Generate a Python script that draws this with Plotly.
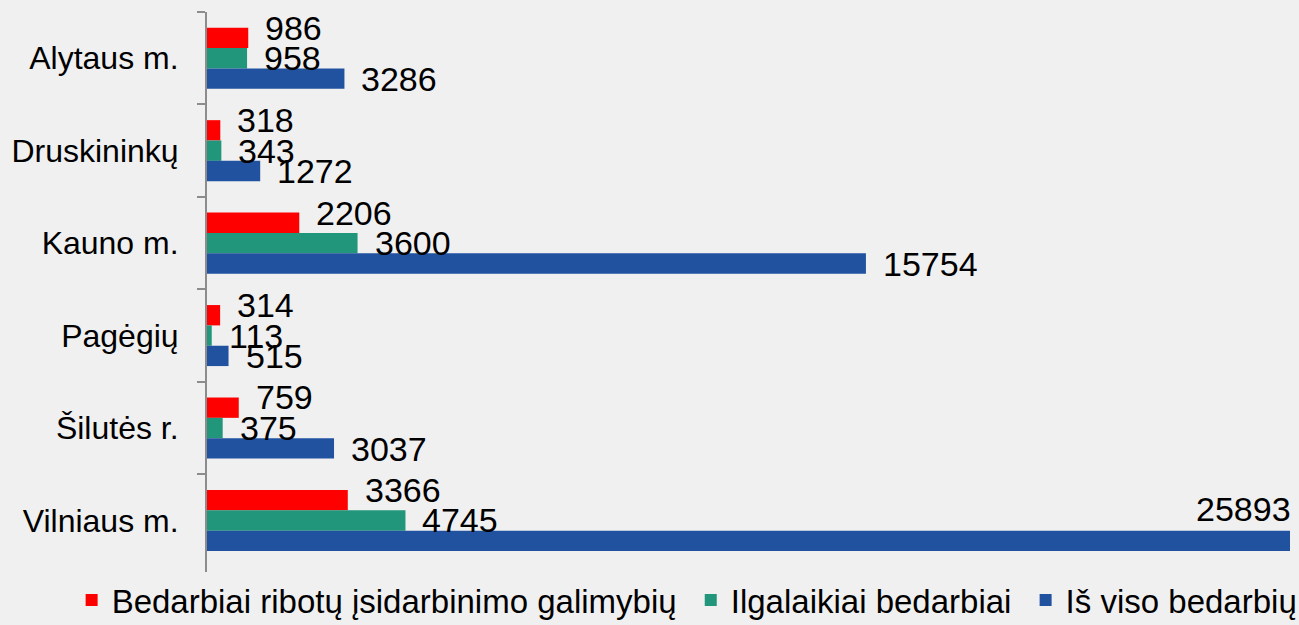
import plotly.graph_objects as go

categories = ["Alytaus m.", "Druskininkų", "Kauno m.", "Pagėgių", "Šilutės r.", "Vilniaus m."]
series_names = ["Bedarbiai ribotų įsidarbinimo galimybių", "Ilgalaikiai bedarbiai", "Iš viso bedarbių"]
ribotu = [986, 318, 2206, 314, 759, 3366]
ilgalaikiai = [958, 343, 3600, 113, 375, 4745]
is_viso = [3286, 1272, 15754, 515, 3037, 25893]

colors = ["#ff0000", "#21967a", "#2152a0"]
series_values = [ribotu, ilgalaikiai, is_viso]

W, H = 1299, 625
M_L, M_R, M_T, M_B = 207, 9, 12, 53
BARGAP = 0.34
FONT = "Liberation Sans"

fig = go.Figure()
for i, (name, vals, col) in enumerate(zip(series_names, series_values, colors)):
    pad = "\u00a0" if i < len(series_names) - 1 else ""
    fig.add_trace(go.Bar(
        y=categories, x=vals, name=name + pad, orientation="h",
        marker=dict(color=col, line=dict(width=0)),
    ))

plot_h = H - M_T - M_B
band = plot_h / len(categories)
bar_w = band * (1 - BARGAP) / len(series_values)
xmax = max(is_viso)

annotations = []
for si, vals in enumerate(series_values):
    center_off = (1 - si) * bar_w  # first trace at top (reversed axis)
    for cat, v in zip(categories, vals):
        ys = center_off + (10 if si == 0 else 0)
        if v > 0.9 * xmax:
            annotations.append(dict(x=v, y=cat, text=str(v), showarrow=False,
                                    xanchor="right", yanchor="middle", xshift=3,
                                    yshift=ys + 32, font=dict(family=FONT, size=34, color="#000000")))
        else:
            annotations.append(dict(x=v, y=cat, text=str(v), showarrow=False,
                                    xanchor="left", yanchor="middle", xshift=15,
                                    yshift=ys, font=dict(family=FONT, size=34, color="#000000")))

fig.update_layout(
    width=W, height=H,
    margin=dict(l=M_L, r=M_R, t=M_T, b=M_B, autoexpand=False),
    paper_bgcolor="#f0f0f0", plot_bgcolor="#f0f0f0",
    barmode="group", bargap=BARGAP, bargroupgap=0,
    font=dict(family=FONT, color="#000000"),
    showlegend=True,
    legend=dict(orientation="h", x=-0.125, xanchor="left", y=-0.05, yanchor="middle",
                font=dict(family=FONT, size=33, color="#000000"),
                bgcolor="rgba(0,0,0,0)", traceorder="normal", itemclick=False),
    annotations=annotations,
)
fig.update_xaxes(range=[0, xmax], showgrid=False, zeroline=False, showticklabels=False,
                 showline=False, ticks="")
fig.update_yaxes(autorange="reversed", showgrid=False, zeroline=False,
                 showline=True, linecolor="#8c8c8c", linewidth=2,
                 ticks="outside", tickson="boundaries", ticklen=8, tickcolor="#8c8c8c", tickwidth=2,
                 tickfont=dict(family=FONT, size=32, color="#000000"),
                 ticklabelstandoff=20)

fig.write_html("out.html")
